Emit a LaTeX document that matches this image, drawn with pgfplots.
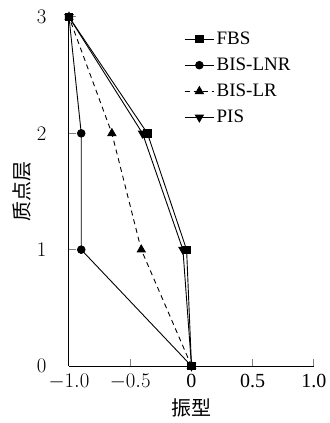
\documentclass[border=0pt]{standalone}
\usepackage{fontspec}
\setmainfont{Liberation Serif}
\newfontfamily\cjk{Noto Sans CJK SC}
\usepackage{pgfplots}
\pgfplotsset{compat=1.18}
\begin{document}
\begin{tikzpicture}
\begin{axis}[
  scale only axis,
  width=245pt, height=349pt,
  xmin=-1, xmax=1, ymin=0, ymax=3,
  axis lines=left,
  axis line style={-, line width=1pt},
  tick style={line width=1pt},
  tick align=inside,
  major tick length=7pt,
  xtick={-1,-0.5,0,0.5,1},
  xticklabels={$-1.0$,$-0.5$,0,0.5,1.0},
  ytick={0,1,2,3},
  tick label style={font=\fontsize{20}{22}\selectfont},
  xticklabel style={yshift=-5pt},
  yticklabel style={xshift=-19pt},
  xlabel={\cjk 振型},
  ylabel={\cjk 质点层},
  every axis x label/.style={at={(axis description cs:0.5,-0.12)}, anchor=center},
  every axis y label/.style={at={(axis description cs:-0.19,0.5)}, rotate=90, anchor=center},
  label style={font=\fontsize{20}{22}\selectfont},
  clip=false,
  legend style={draw=none, fill=none, at={(0.465,0.966)}, anchor=north west,
    font=\fontsize{19}{21}\selectfont, row sep=8pt, inner sep=1pt},
  legend cell align=left,
  legend image code/.code={\draw[mark repeat=2,mark phase=2,#1] plot coordinates {(0cm,0cm) (0.52cm,0cm) (1.04cm,0cm)};},
  every axis plot/.append style={line width=0.9pt, black},
]
\path (rel axis cs:-0.2816,-0.1633) rectangle (rel axis cs:1.0612,1.0487);
\addplot[mark=square*, mark size=3.7pt, mark options={solid}] coordinates {(0,0) (-0.04,1) (-0.36,2) (-1,3)};
\addlegendentry{FBS}
\addplot[mark=*, mark size=3.8pt, mark options={solid}] coordinates {(0,0) (-0.90,1) (-0.90,2) (-1,3)};
\addlegendentry{BIS-LNR}
\addplot[dash pattern=on 5pt off 4pt, mark=triangle*, mark size=4.6pt, mark options={solid}] coordinates {(0,0) (-0.41,1) (-0.65,2) (-1,3)};
\addlegendentry{BIS-LR}
\addplot[mark=triangle*, mark size=4.6pt, mark options={solid, rotate=180}] coordinates {(0,0) (-0.07,1) (-0.40,2) (-1,3)};
\addlegendentry{PIS}
\end{axis}
\end{tikzpicture}
\end{document}
